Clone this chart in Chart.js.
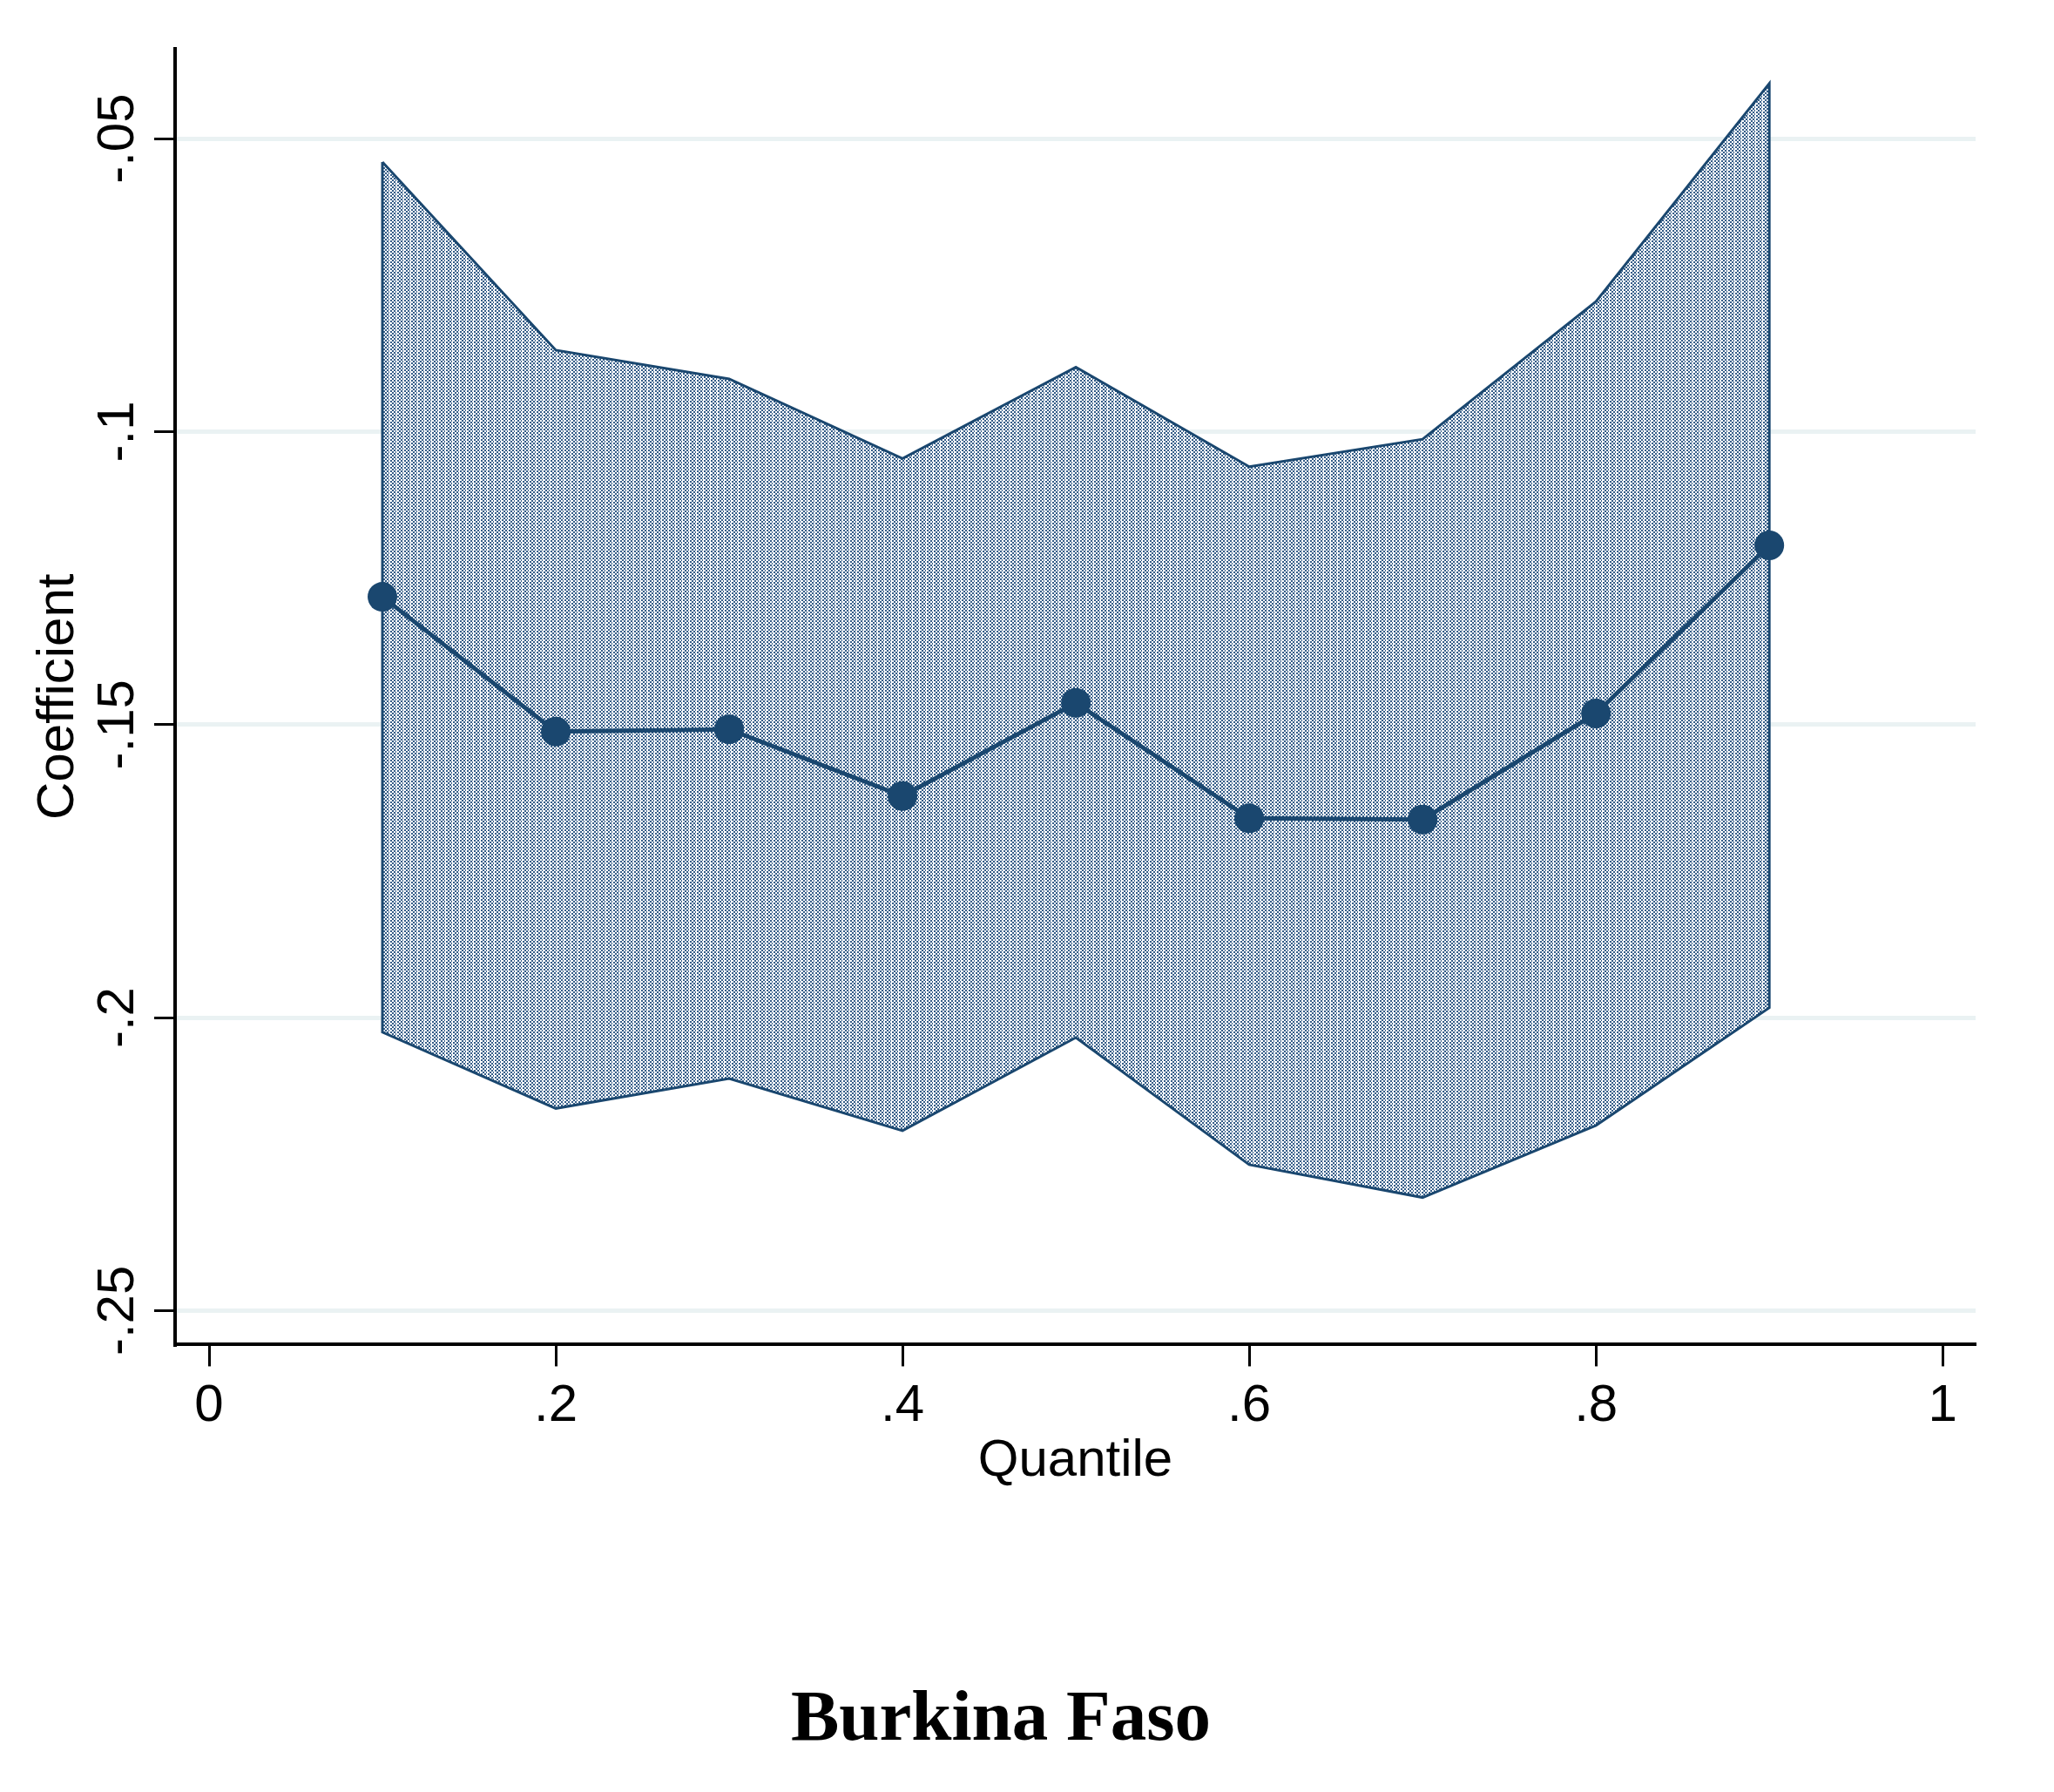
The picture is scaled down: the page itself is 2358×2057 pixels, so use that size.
<!DOCTYPE html>
<html>
<head>
<meta charset="utf-8">
<script src="https://cdn.jsdelivr.net/npm/chart.js@4.4.1/dist/chart.umd.min.js"></script>
<style>
  html, body { margin: 0; padding: 0; background: #fff; }
  canvas { display: block; }
</style>
</head>
<body>
<canvas id="chart" width="2358" height="2057"></canvas>
<script>
// quantile regression coefficients with confidence band
const quantiles = [0.1, 0.2, 0.3, 0.4, 0.5, 0.6, 0.7, 0.8, 0.9];
const coef      = [-0.1282, -0.1512, -0.1508, -0.1622, -0.1463, -0.1660, -0.1662, -0.1481, -0.1194];
const upperCI   = [-0.0540, -0.0861, -0.0910, -0.1046, -0.0890, -0.1060, -0.1013, -0.0778, -0.0406];
const lowerCI   = [-0.2025, -0.2155, -0.2104, -0.2193, -0.2034, -0.2251, -0.2307, -0.2184, -0.1983];

const xTickValues = [0, 0.2, 0.4, 0.6, 0.8, 1];
const xTickLabels = ['0', '.2', '.4', '.6', '.8', '1'];
const yTickValues = [-0.25, -0.2, -0.15, -0.1, -0.05];
const yTickLabels = ['-.25', '-.2', '-.15', '-.1', '-.05'];

const NAVY = '#1a476f';
const SANS = '"Liberation Sans", Arial, sans-serif';

// checker fill like the stata shaded area (2px checks, white column every 8px)
function makePattern() {
    let pc = document.createElement('canvas');
    pc.width = 8;
    pc.height = 8;
    let pctx = pc.getContext('2d');
    pctx.fillStyle = '#ffffff';
    pctx.fillRect(0, 0, 8, 8);
    pctx.fillStyle = '#355d88';
    for (let i = 0; i < 4; i++) {
        for (let j = 0; j < 4; j++) {
            if ((i + j) % 2 == 0) pctx.fillRect(i * 2, j * 2, 2, 2);
        }
    }
    pctx.fillStyle = '#ffffff';
    pctx.fillRect(7, 0, 1, 8);
    return pctx.createPattern(pc, 'repeat');
}

let upperPts = quantiles.map((q, i) => ({x: q, y: upperCI[i]}));
let lowerPts = quantiles.map((q, i) => ({x: q, y: lowerCI[i]}));
let coefPts = quantiles.map((q, i) => ({x: q, y: coef[i]}));
// closed outline of the band
let outlinePts = upperPts.concat(lowerPts.slice().reverse(), [upperPts[0]]);

const yLabelPlugin = {
    id: 'yLabels',
    afterDraw(chart) {
        let ctx = chart.ctx;
        let ys = chart.scales.y;
        ctx.save();
        ctx.font = '60px ' + SANS;
        ctx.fillStyle = '#000';
        ctx.textAlign = 'center';
        ctx.textBaseline = 'alphabetic';
        yTickValues.forEach((v, i) => {
            ctx.save();
            ctx.translate(ys.right - 48, ys.getPixelForValue(v));
            ctx.rotate(-Math.PI / 2);
            ctx.fillText(yTickLabels[i], 0, 0);
            ctx.restore();
        });
        ctx.restore();
    }
};

new Chart(document.getElementById('chart'), {
    type: 'line',
    data: {
        datasets: [
            {
                label: 'coef',
                data: coefPts,
                borderColor: NAVY,
                borderWidth: 5,
                pointRadius: 17,
                pointBackgroundColor: NAVY,
                pointBorderWidth: 0,
                fill: false,
                order: 0
            },
            {
                label: 'outline',
                data: outlinePts,
                borderColor: NAVY,
                borderWidth: 3,
                pointRadius: 0,
                fill: false,
                order: 1
            },
            {
                label: 'upper',
                data: upperPts,
                borderWidth: 0,
                pointRadius: 0,
                backgroundColor: makePattern(),
                fill: '+1',
                order: 2
            },
            {
                label: 'lower',
                data: lowerPts,
                borderWidth: 0,
                pointRadius: 0,
                fill: false,
                order: 3
            }
        ]
    },
    options: {
        responsive: false,
        animation: false,
        devicePixelRatio: 1,
        layout: { padding: { left: 30, right: 90, top: 56, bottom: 0 } },
        plugins: {
            legend: { display: false },
            tooltip: { enabled: false },
            title: {
                display: true,
                text: 'Burkina Faso',
                position: 'bottom',
                color: '#000',
                font: { family: '"Liberation Serif", "Times New Roman", serif', size: 83, weight: 'bold', lineHeight: 1.2 },
                padding: { top: 0, bottom: 32 }
            }
        },
        scales: {
            x: {
                type: 'linear',
                min: -0.0196,
                max: 1.019,
                afterBuildTicks: (scale) => { scale.ticks = xTickValues.map(v => ({value: v})); },
                afterFit: (scale) => { scale.height = 382; },
                border: { display: true, color: '#000', width: 4 },
                grid: { drawOnChartArea: false, tickLength: 25, tickColor: '#000', tickWidth: 3 },
                ticks: {
                    color: '#000',
                    padding: 10,
                    maxRotation: 0,
                    font: { family: SANS, size: 60 },
                    callback: (v) => xTickLabels[xTickValues.indexOf(v)]
                },
                title: {
                    display: true,
                    text: 'Quantile',
                    color: '#000',
                    font: { family: SANS, size: 60 },
                    padding: { top: 0, bottom: 212 }
                }
            },
            y: {
                type: 'linear',
                min: -0.2558,
                max: -0.03467,
                afterBuildTicks: (scale) => { scale.ticks = yTickValues.map(v => ({value: v})); },
                afterFit: (scale) => { scale.width = 171; },
                border: { display: true, color: '#000', width: 4 },
                grid: { color: '#eaf2f3', lineWidth: 5, tickLength: 24, tickColor: '#000', tickWidth: 3 },
                ticks: { display: false },
                title: {
                    display: true,
                    text: 'Coefficient',
                    color: '#000',
                    font: { family: SANS, size: 60 },
                    padding: { top: 1, bottom: 0 }
                }
            }
        }
    },
    plugins: [yLabelPlugin]
});
</script>
</body>
</html>
